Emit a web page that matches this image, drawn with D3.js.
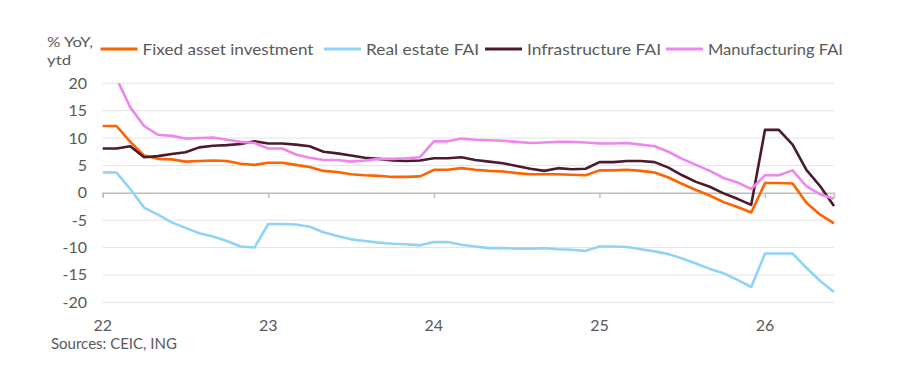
<!DOCTYPE html>
<html>
<head>
<meta charset="utf-8">
<script src="https://cdn.jsdelivr.net/npm/d3@7"></script>
<style>
  body { margin: 0; background: #fff; }
  text { font-family: Lato, "Open Sans", sans-serif; fill: #595959; }
</style>
</head>
<body>
<div id="chart"></div>
<script>
// Monthly ytd % YoY, Jan 2022 .. Jun 2026 (Jan repeats the Jan-Feb print)
const yearLabels = ["22", "23", "24", "25", "26"];
const seriesNames = ["Fixed asset investment", "Real estate FAI", "Infrastructure FAI", "Manufacturing FAI"];
const yTicks = [20, 15, 10, 5, 0, -5, -10, -15, -20];

const fixedAsset = [
  12.2, 12.2, 9.3, 6.8, 6.2, 6.1, 5.7, 5.8, 5.9, 5.8, 5.3, 5.1,
  5.5, 5.5, 5.1, 4.7, 4.0, 3.8, 3.4, 3.2, 3.1, 2.9, 2.9, 3.0,
  4.2, 4.2, 4.5, 4.2, 4.0, 3.9, 3.6, 3.4, 3.4, 3.4, 3.3, 3.2,
  4.1, 4.1, 4.2, 4.0, 3.7, 2.8, 1.6, 0.5, -0.5, -1.7, -2.6, -3.6,
  1.8, 1.8, 1.7, -1.8, -4.0, -5.6
];
const realEstate = [
  3.7, 3.7, 0.7, -2.7, -4.0, -5.4, -6.4, -7.4, -8.0, -8.8, -9.8, -10.0,
  -5.7, -5.7, -5.8, -6.2, -7.2, -7.9, -8.5, -8.8, -9.1, -9.3, -9.4, -9.6,
  -9.0, -9.0, -9.5, -9.8, -10.1, -10.1, -10.2, -10.2, -10.1, -10.3, -10.4, -10.6,
  -9.8, -9.8, -9.9, -10.3, -10.7, -11.2, -12.0, -12.9, -13.9, -14.7, -15.9, -17.2,
  -11.1, -11.1, -11.1, -13.7, -16.1, -18.1
];
const infrastructure = [
  8.1, 8.1, 8.5, 6.5, 6.7, 7.1, 7.4, 8.3, 8.6, 8.7, 8.9, 9.4,
  9.0, 9.0, 8.8, 8.5, 7.5, 7.2, 6.8, 6.4, 6.2, 5.9, 5.8, 5.9,
  6.3, 6.3, 6.5, 6.0, 5.7, 5.4, 4.9, 4.4, 4.0, 4.5, 4.3, 4.4,
  5.6, 5.6, 5.8, 5.8, 5.6, 4.6, 3.2, 2.0, 1.1, -0.1, -1.1, -2.2,
  11.5, 11.5, 8.8, 4.2, 1.2, -2.4
];
const manufacturing = [
  20.9, 20.9, 15.6, 12.2, 10.6, 10.4, 9.9, 10.0, 10.1, 9.7, 9.3, 9.1,
  8.1, 8.1, 7.0, 6.4, 6.0, 6.0, 5.7, 5.9, 6.2, 6.2, 6.3, 6.5,
  9.4, 9.4, 9.9, 9.7, 9.6, 9.5, 9.3, 9.1, 9.2, 9.3, 9.3, 9.2,
  9.0, 9.0, 9.1, 8.8, 8.5, 7.5, 6.2, 5.1, 4.0, 2.7, 1.9, 0.7,
  3.2, 3.2, 4.1, 1.2, -0.3, -1.1
];

document.addEventListener("DOMContentLoaded", function () {
  const width = 900, height = 380;
  const left = 102.7, right = 834, top = 83.3, bottom = 302.3;
  const colors = ["#ff6200", "#8fd4f6", "#4b1a2e", "#ee86ee"];
  const data = [fixedAsset, realEstate, infrastructure, manufacturing];

  const svg = d3.select("#chart").append("svg")
    .attr("width", width)
    .attr("height", height);

  const x = d3.scaleLinear().domain([0, fixedAsset.length - 1]).range([left, right]);
  const y = d3.scaleLinear().domain([-20, 20]).range([bottom, top]);

  // gridlines
  svg.append("g")
    .selectAll("line")
    .data(yTicks.filter(d => d !== 0))
    .join("line")
    .attr("x1", left).attr("x2", right)
    .attr("y1", d => y(d)).attr("y2", d => y(d))
    .attr("stroke", "#e3e3e3")
    .attr("stroke-width", 1);

  // y labels
  svg.append("g")
    .selectAll("text")
    .data(yTicks)
    .join("text")
    .attr("x", 87)
    .attr("y", d => y(d) + 5.5)
    .attr("text-anchor", "end")
    .attr("font-size", "16px")
    .text(d => d);

  // zero axis with year ticks
  const xAxis = d3.axisBottom(x)
    .tickValues(yearLabels.map((d, i) => i * 12))
    .tickSize(5)
    .tickFormat("");
  const ax = svg.append("g")
    .attr("transform", `translate(0,${y(0)})`)
    .call(xAxis);
  ax.select(".domain").attr("stroke", "#bdbdbd").attr("stroke-width", 1.5);
  ax.selectAll(".tick line").attr("stroke", "#bdbdbd").attr("stroke-width", 1.5);

  // year labels along the bottom
  svg.append("g")
    .selectAll("text")
    .data(yearLabels)
    .join("text")
    .attr("x", (d, i) => x(i * 12))
    .attr("y", 331)
    .attr("text-anchor", "middle")
    .attr("font-size", "16px")
    .text(d => d);

  svg.append("clipPath").attr("id", "plot")
    .append("rect")
    .attr("x", 0).attr("y", top)
    .attr("width", width).attr("height", height - top);

  const line = d3.line()
    .x((d, i) => x(i))
    .y(d => y(d));

  svg.append("g")
    .attr("clip-path", "url(#plot)")
    .selectAll("path")
    .data(data)
    .join("path")
    .attr("d", line)
    .attr("fill", "none")
    .attr("stroke", (d, i) => colors[i])
    .attr("stroke-width", 2.6)
    .attr("stroke-linejoin", "round");

  // unit label
  svg.append("text").attr("x", 47).attr("y", 47).attr("font-size", "14px")
    .attr("textLength", 46).attr("lengthAdjust", "spacingAndGlyphs").text("% YoY,");
  svg.append("text").attr("x", 47).attr("y", 65).attr("font-size", "14px")
    .attr("textLength", 24).attr("lengthAdjust", "spacingAndGlyphs").text("ytd");

  // legend
  const legendX = [100.5, 324, 485, 666];
  const legendW = [171, 113, 134, 135];
  const lg = svg.append("g")
    .selectAll("g")
    .data(seriesNames)
    .join("g")
    .attr("transform", (d, i) => `translate(${legendX[i]},49)`);
  lg.append("line")
    .attr("x1", 0).attr("x2", 37)
    .attr("stroke", (d, i) => colors[i])
    .attr("stroke-width", 3);
  lg.append("text")
    .attr("x", 42)
    .attr("y", 5.5)
    .attr("font-size", "16px")
    .attr("textLength", (d, i) => legendW[i])
    .attr("lengthAdjust", "spacingAndGlyphs")
    .text(d => d);

  svg.append("text")
    .attr("x", 51)
    .attr("y", 349)
    .attr("font-size", "15px")
    .text("Sources: CEIC, ING");
});
</script>
</body>
</html>
